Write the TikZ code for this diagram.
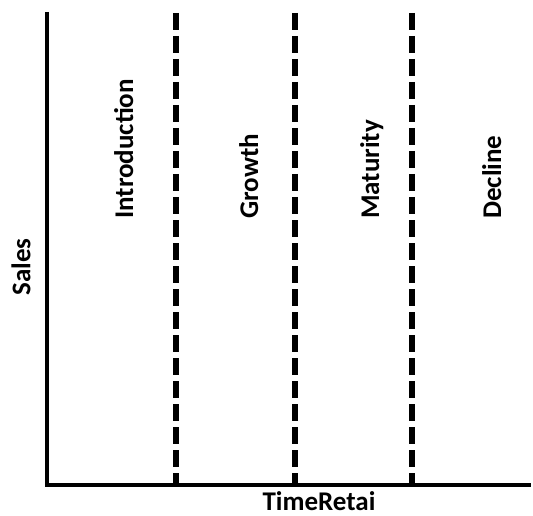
\documentclass[tikz,border=0pt]{standalone}
\usepackage{fontspec}
\setmainfont{Carlito}
\begin{document}
\begin{tikzpicture}[x=1pt,y=-1pt,
  axis/.style={line width=4pt},
  phase/.style={line width=5.5pt,dash pattern=on 17pt off 6pt},
  lbl/.style={font=\fontsize{27}{32}\selectfont\bfseries,inner sep=0pt},
  rlbl/.style={lbl,rotate=90,anchor=base west}]
\useasboundingbox (0,0) rectangle (533,516);
\coordinate (o) at (47,485);
\coordinate (ytop) at (47,12);
\coordinate (xend) at (531,485);
\draw[axis] (ytop) -- (o.center) -- (xend);
\coordinate (d1t) at (176,13); \coordinate (d1b) at (176,483);
\coordinate (d2t) at (295,13); \coordinate (d2b) at (295,483);
\coordinate (d3t) at (412,13); \coordinate (d3b) at (412,483);
\draw[phase] (d1t) -- (d1b);
\draw[phase] (d2t) -- (d2b);
\draw[phase] (d3t) -- (d3b);
\node[rlbl] (intro) at (133,219) {Introduction};
\node[rlbl] (growth) at (258,219) {Growth};
\node[rlbl] (mat) at (379,219) {Maturity};
\node[rlbl] (dec) at (501,219) {Decline};
\node[lbl,rotate=90] (sales) at (21,267) {Sales};
\node[lbl,anchor=base] (time) at (319,510) {TimeRetai};
\end{tikzpicture}
\end{document}
